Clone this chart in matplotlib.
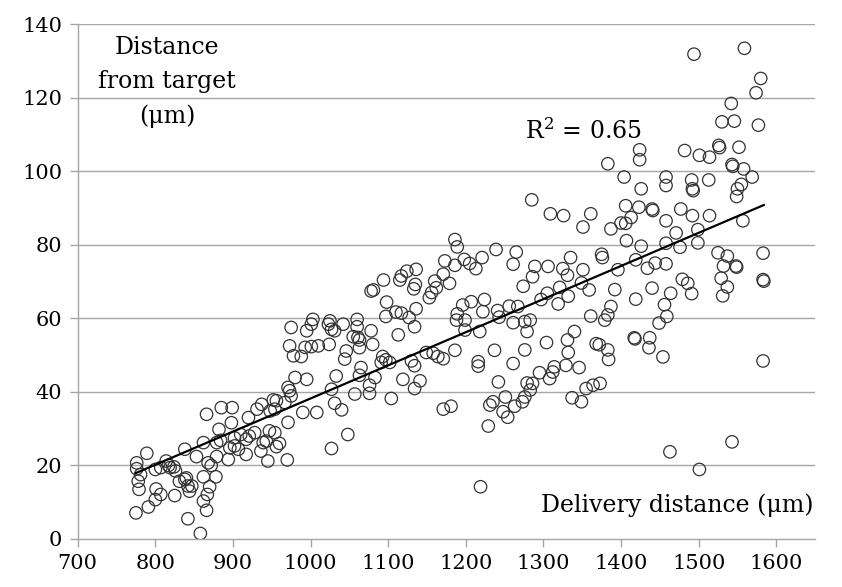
import numpy as np
import matplotlib
matplotlib.use("Agg")
import matplotlib.pyplot as plt

# Delivery distance (um) vs distance from target (um)
delivery = [
    776, 776, 781, 778, 779, 789, 775, 791, 800, 801, 807, 800, 807, 814, 817, 819, 824, 826, 825, 831,
    838, 840, 842, 844, 847, 838, 842, 853, 862, 862, 868, 872, 870, 867, 862, 866, 858, 879, 878, 882,
    884, 879, 866, 885, 899, 894, 898, 896, 902, 902, 907, 910, 917, 921, 917, 920, 928, 931, 937, 948,
    952, 945, 943, 947, 936, 939,
    954, 960, 956, 970, 1027, 1048,
    1173, 1171, 1160, 1162, 1156, 1153, 1136, 1133, 1135, 1136, 1127, 1134, 1124, 1117, 1115, 1094, 1098, 1097, 1110, 1117,
    1113, 1078, 1081, 1060, 1060, 1055, 1061, 1063, 1063, 1078, 1080, 1046, 1044, 1042, 1025, 1023, 1027, 1031, 1024, 1003,
    1001, 995, 1010, 1001, 993, 975, 973, 978, 988, 980, 995, 971, 973, 975, 956, 967, 954, 971, 990, 1008,
    1033, 1027, 1031, 1040, 1057, 1063, 1065, 1076, 1076, 1083, 1093, 1091, 1097, 1102, 1104, 1119, 1130, 1134, 1141, 1134,
    1149, 1158, 1164, 1171, 1171,
    1285, 1309, 1326, 1361, 1351, 1387, 1400, 1186, 1189, 1239, 1265, 1261, 1186, 1198, 1205, 1213, 1221, 1179, 1289, 1286,
    1274, 1306, 1325, 1335, 1331, 1351, 1349, 1359, 1375, 1376, 1396, 1392, 1387, 1383, 1379, 1361, 1321, 1305, 1297, 1319,
    1332, 1256, 1267, 1241, 1243, 1261, 1276, 1283, 1279, 1224, 1222, 1207, 1196, 1189, 1188, 1199, 1199, 1218, 1186, 1237,
    1276, 1304, 1331, 1340, 1332, 1368, 1372, 1383,
    1216, 1216, 1261, 1384, 1181, 1242, 1251, 1231, 1235, 1248, 1254, 1229, 1263, 1273, 1276, 1279, 1283, 1286, 1295, 1308,
    1312, 1314, 1329, 1346, 1337, 1349, 1355, 1364, 1373, 1219,
    1494, 1559, 1580, 1574, 1542, 1530, 1546, 1577, 1424, 1424, 1482, 1501, 1514, 1526, 1527, 1552, 1543, 1544, 1558, 1569,
    1555, 1550, 1549, 1404, 1426, 1458, 1458, 1491, 1492, 1493, 1513, 1406, 1423, 1440, 1441, 1477, 1492, 1514, 1458, 1413,
    1557, 1383,
    1406, 1471, 1499, 1407, 1426, 1458, 1476, 1499, 1419, 1434, 1444, 1458, 1525, 1537, 1532, 1548, 1549, 1583, 1583, 1584,
    1529, 1537, 1531, 1479, 1486, 1491, 1440, 1419, 1464, 1456, 1459, 1449, 1417, 1418, 1437, 1436, 1454, 1583,
    1463, 1501, 1543,
]

target = [
    20.7, 19.1, 17.5, 15.7, 13.5, 23.3, 7.1, 8.7, 10.7, 13.6, 12.1, 18.9, 19.4, 21.2, 20.0, 19.4, 19.6, 18.5, 11.8, 15.7,
    24.4, 16.6, 14.4, 13.0, 14.4, 16.2, 5.5, 22.4, 26.2, 16.9, 20.7, 20.0, 14.2, 12.1, 10.3, 7.8, 1.5, 22.4, 16.9, 29.8,
    26.8, 26.2, 33.9, 35.7, 35.7, 21.6, 31.6, 24.8, 27.5, 25.3, 24.4, 28.4, 27.1, 28.0, 23.0, 33.0, 28.9, 35.3, 36.6, 34.8,
    37.8, 21.2, 26.6, 29.4, 23.9, 26.2,
    28.9, 26.0, 25.1, 21.5, 24.6, 28.4,
    75.6, 72.0, 70.1, 68.3, 67.0, 65.6, 73.3, 68.0, 69.2, 62.6, 60.2, 57.7, 72.8, 71.5, 70.4, 70.4, 64.4, 60.5, 61.7, 61.4,
    55.5, 67.4, 67.7, 59.7, 57.7, 55.0, 54.8, 54.1, 52.0, 56.6, 52.9, 51.1, 48.9, 58.4, 59.3, 58.4, 57.0, 56.6, 52.9, 59.7,
    58.4, 56.6, 52.5, 52.3, 52.1, 57.5, 52.5, 49.8, 49.6, 43.9, 43.4, 41.2, 40.3, 38.9, 37.6, 37.1, 35.3, 31.7, 34.4, 34.4,
    44.3, 40.7, 36.9, 35.1, 39.4, 44.5, 46.6, 41.8, 39.6, 43.9, 49.6, 48.0, 48.7, 48.0, 38.2, 43.4, 48.4, 47.1, 43.0, 40.9,
    50.7, 50.5, 49.6, 49.0, 35.3,
    92.2, 88.4, 87.9, 88.4, 84.8, 84.3, 85.9, 81.4, 79.4, 78.7, 78.0, 74.7, 74.4, 76.0, 74.9, 73.5, 76.5, 69.5, 74.1, 71.3,
    68.7, 74.1, 73.5, 76.5, 71.7, 73.2, 69.6, 67.7, 77.4, 76.5, 73.2, 67.8, 63.2, 60.9, 59.5, 60.6, 68.4, 66.8, 65.1, 63.9,
    66.0, 63.3, 63.2, 62.1, 60.3, 58.8, 59.1, 59.5, 56.4, 65.1, 61.8, 64.5, 63.6, 61.2, 59.5, 59.5, 56.8, 56.4, 51.3, 51.3,
    51.4, 53.4, 54.1, 56.4, 50.7, 53.1, 52.8, 51.4,
    48.2, 47.0, 47.7, 48.8, 36.1, 42.7, 38.6, 36.4, 37.3, 34.6, 33.1, 30.7, 36.1, 37.3, 38.6, 42.4, 40.5, 42.3, 45.2, 43.6,
    45.4, 46.8, 47.2, 46.6, 38.4, 37.3, 40.9, 41.8, 42.3, 14.2,
    131.8, 133.4, 125.2, 121.3, 118.4, 113.4, 113.6, 112.5, 105.8, 103.1, 105.6, 104.3, 103.8, 107.0, 106.4, 106.5, 101.8, 101.3, 100.6, 98.4,
    96.4, 95.2, 93.1, 98.4, 95.2, 98.4, 96.1, 97.6, 95.2, 94.7, 97.6, 90.6, 90.2, 89.7, 89.3, 89.7, 87.9, 87.9, 86.5, 87.4,
    86.5, 102.0,
    85.8, 83.2, 84.1, 81.1, 79.6, 80.4, 79.3, 80.5, 75.9, 73.6, 75.0, 74.8, 77.8, 76.9, 74.2, 74.2, 73.9, 77.7, 70.5, 70.1,
    70.9, 68.5, 66.1, 70.6, 69.5, 66.7, 68.2, 65.2, 66.8, 63.7, 60.5, 58.7, 54.7, 54.4, 54.7, 52.0, 49.5, 48.4,
    23.7, 18.9, 26.4,
]

x_ticks = [700, 800, 900, 1000, 1100, 1200, 1300, 1400, 1500, 1600]
y_ticks = [0, 20, 40, 60, 80, 100, 120, 140]
r2_label = "R$^2$ = 0.65"

x = np.array(delivery, dtype=float)
y = np.array(target, dtype=float)

plt.rcParams["font.family"] = ["DejaVu Serif"]
plt.rcParams["mathtext.fontset"] = "dejavuserif"

fig = plt.figure(figsize=(8.42, 5.87), dpi=100)
ax = fig.add_axes([0.0923, 0.0818, 0.8757, 0.8773])

grid_col = "#a6a6a6"
for yt in y_ticks[1:]:
    ax.axhline(yt, color=grid_col, lw=1.0, zorder=0)

ax.scatter(x, y, s=80, facecolors="none", edgecolors="#333333", linewidths=0.9, zorder=2)

# least-squares trendline over the data range
slope, icpt = np.polyfit(x, y, 1)
xf = np.array([x.min(), x.max()])
ax.plot(xf, slope * xf + icpt, color="black", lw=1.6, zorder=3)

ax.set_xlim(700, 1650)
ax.set_ylim(0, 140)
ax.set_xticks(x_ticks)
ax.set_yticks(y_ticks)
ax.tick_params(axis="both", labelsize=15, color=grid_col, length=6, width=1.0, pad=5)
for side in ("top", "right"):
    ax.spines[side].set_visible(False)
for side in ("left", "bottom"):
    ax.spines[side].set_color(grid_col)
    ax.spines[side].set_linewidth(1.0)

ax.text(815, 133.5, "Distance", fontsize=17, ha="center", va="center")
ax.text(815, 124.3, "from target", fontsize=17, ha="center", va="center")
ax.text(815, 115.0, "(\u03bcm)", fontsize=17, ha="center", va="center")
ax.text(1276, 111, r2_label, fontsize=17, ha="left", va="center")
ax.text(1648, 9.2, "Delivery distance (\u03bcm)", fontsize=17, ha="right", va="center")

fig.savefig("out.png", dpi=100)
